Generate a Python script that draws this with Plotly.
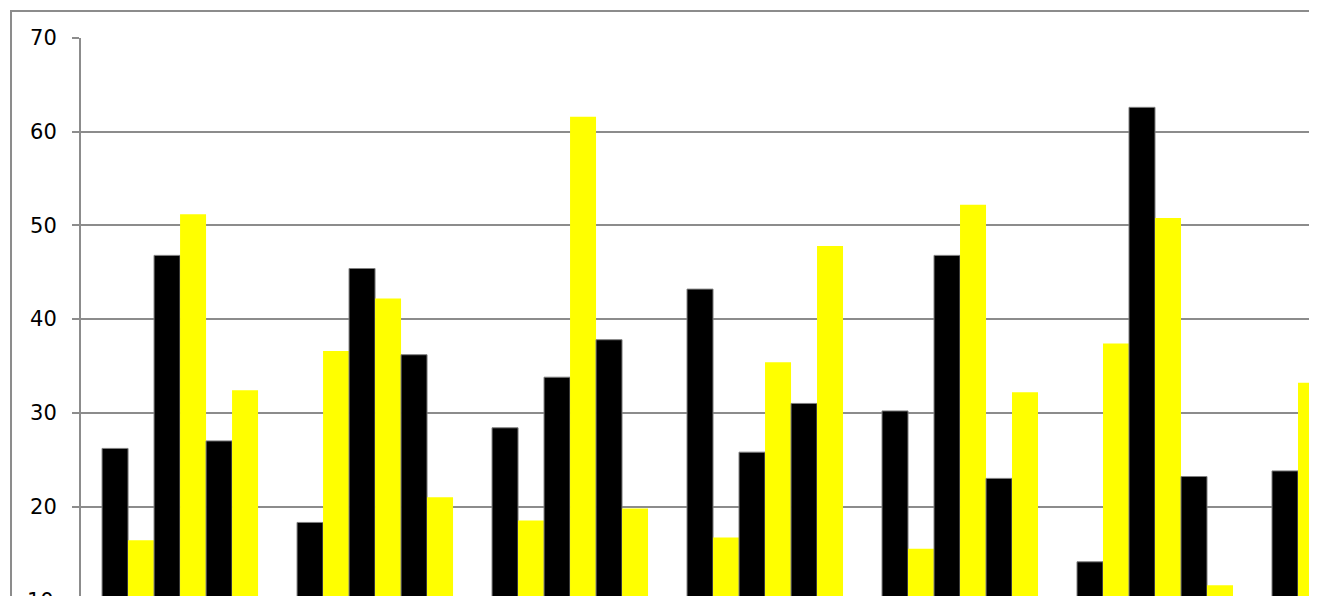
import plotly.graph_objects as go

categories = ["1", "2", "3", "4", "5", "6", "7"]
series_names = ["Série 1", "Série 2", "Série 3", "Série 4", "Série 5", "Série 6"]
series_values = [
    [26.2, 18.3, 28.4, 43.2, 30.2, 14.1, 23.8],
    [16.4, 36.6, 18.5, 16.7, 15.5, 37.4, 33.2],
    [46.8, 45.4, 33.8, 25.8, 46.8, 62.6, None],
    [51.2, 42.2, 61.6, 35.4, 52.2, 50.8, None],
    [27.0, 36.2, 37.8, 31.0, 23.0, 23.2, None],
    [32.4, 21.0, 19.8, 47.8, 32.2, 11.6, None],
]
series_colors = ["#000000", "#FFFF00", "#000000", "#FFFF00", "#000000", "#FFFF00"]
y_ticks = [10, 20, 30, 40, 50, 60, 70]

fig = go.Figure()
for name, vals, col in zip(series_names, series_values, series_colors):
    black = col == "#000000"
    fig.add_trace(go.Bar(
        x=categories, y=vals, name=name,
        marker=dict(color=col,
                    line=dict(color="#7f7f7f" if black else col, width=1 if black else 0)),
    ))

fig.update_layout(
    width=1309, height=588,
    margin=dict(l=73, r=6, t=30, b=0),
    paper_bgcolor="white", plot_bgcolor="white",
    barmode="group", bargap=0.2, bargroupgap=0,
    showlegend=False,
    font=dict(family="DejaVu Sans", size=21, color="#000000"),
    xaxis=dict(range=[-0.508, 5.8], showticklabels=False, showgrid=False,
               zeroline=False, ticks=""),
    yaxis=dict(range=[10.45, 70], tickvals=y_ticks, ticktext=[str(v) for v in y_ticks],
               showgrid=True, gridcolor="#8c8c8c", gridwidth=2,
               showline=True, linecolor="#8c8c8c", linewidth=2,
               ticks="outside", ticklen=7, tickcolor="#8c8c8c", tickwidth=2,
               ticklabelstandoff=11, zeroline=False,
               tickfont=dict(family="DejaVu Sans", size=21, color="#000000")),
    shapes=[dict(type="path", xref="paper", yref="paper",
                 path="M -0.0569,-0.1 L -0.0569,1.0484 L 1.0,1.0484",
                 line=dict(color="#8c8c8c", width=2))],
    annotations=[dict(text="10", xref="paper", yref="paper", x=-0.0203, y=0,
                      xanchor="right", yanchor="middle", yshift=-5, showarrow=False,
                      font=dict(family="DejaVu Sans", size=21, color="#000000"))],
)

fig.write_html("out.html")
